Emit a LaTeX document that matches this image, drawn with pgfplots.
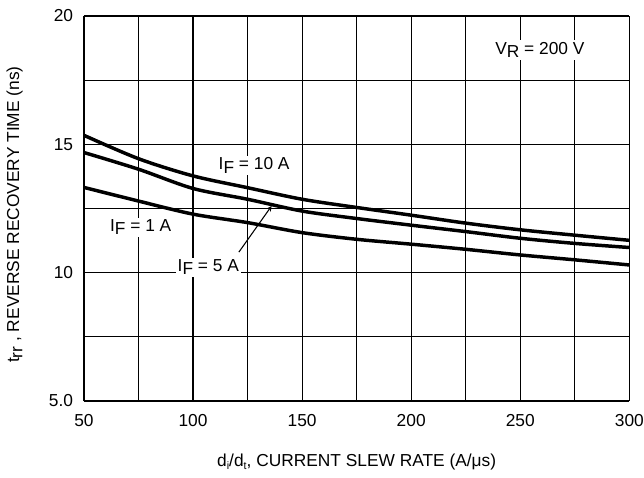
\documentclass[border=0pt]{standalone}
\usepackage{pgfplots}
\pgfplotsset{compat=1.18}
\usepackage{fontspec}
\setmainfont{Liberation Sans}

% t_rr vs di/dt, one curve per forward current
\pgfplotstableread{
x    one    five   ten
50   13.32  14.68  15.35
75   12.79  14.03  14.44
100  12.28  13.28  13.77
125  11.95  12.86  13.31
150  11.56  12.40  12.86
175  11.30  12.11  12.54
200  11.11  11.85  12.24
225  10.91  11.60  11.93
250  10.69  11.34  11.67
275  10.50  11.14  11.46
300  10.30  10.98  11.26
}\trrdata

\newcommand{\sub}[1]{\raisebox{-0.35ex}{#1}}

\begin{document}
\fontsize{13pt}{15pt}\selectfont
\begin{tikzpicture}
\begin{axis}[
    scale only axis,
    width=409pt, height=288.75pt,
    xmin=50, xmax=300, ymin=5, ymax=20,
    xtick={50,100,...,300},
    ytick={5,10,15,20},
    yticklabels={5.0,10,15,20},
    minor x tick num=1, minor y tick num=1,
    grid=both,
    major grid style={black, line width=0.9pt},
    minor grid style={black, line width=0.9pt},
    major tick length=0pt, minor tick length=0pt,
    axis x line=bottom, axis y line=left,
    axis line style={-, line width=2.2pt},
    /pgf/number format/assume math mode=true,
    ticklabel style={font=\fontsize{13pt}{15pt}\selectfont},
    xticklabel style={anchor=north, inner sep=0pt, yshift=-9.5pt},
    yticklabel style={anchor=east, inner sep=0pt, xshift=-8pt},
    label style={font=\fontsize{13pt}{15pt}\selectfont},
    xlabel={d\sub{\footnotesize i}/d\sub{\footnotesize t}, CURRENT SLEW RATE (A/μs)},
    xlabel style={at={(axis description cs:0.5,-0.169)}, anchor=base},
    ylabel={t\sub{rr} , REVERSE RECOVERY TIME (ns)},
    ylabel style={at={(axis description cs:-0.127,0.484)}, anchor=center},
]
\addplot[black, line width=2.6pt, smooth] table[x=x, y=ten] {\trrdata};
\addplot[black, line width=2.6pt, smooth] table[x=x, y=five] {\trrdata};
\addplot[black, line width=2.6pt, smooth] table[x=x, y=one] {\trrdata};

\node[fill=white, inner sep=1.5pt] at (axis cs:128,14.18) {I\sub{F} = 10 A};
\node[fill=white, inner sep=1.5pt] at (axis cs:76,11.77) {I\sub{F} = 1 A};
\node[fill=white, inner sep=1.5pt] at (axis cs:107,10.21) {I\sub{F} = 5 A};
\node[fill=white, inner sep=1.5pt] at (axis cs:259,18.68) {V\sub{R} = 200 V};
\draw[-stealth, line width=0.8pt] (axis cs:121,10.8) -- (axis cs:136,12.6);
\end{axis}
\pgfresetboundingbox
\path[use as bounding box] ([shift={(-63pt,-57pt)}]current axis.south west)
    rectangle ([shift={(11pt,12pt)}]current axis.north east);
\end{tikzpicture}
\end{document}
